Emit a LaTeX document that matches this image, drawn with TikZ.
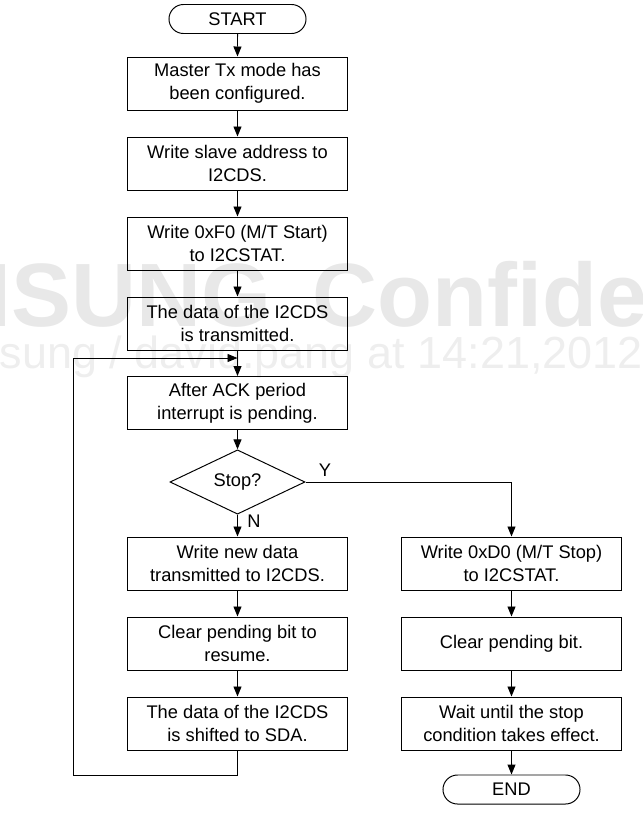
\documentclass[tikz,border=0pt]{standalone}
\usepackage{fontspec}
\setmainfont{Liberation Sans}
\usetikzlibrary{shapes.geometric, shapes.misc, arrows.meta}
\definecolor{wmark}{RGB}{232, 232, 232}
\definecolor{wmarklt}{RGB}{238, 238, 238}

\begin{document}
\begin{tikzpicture}[x=0.025cm, y=-0.025cm,
  font=\fontsize{13}{16.3}\selectfont,
  box/.style={draw, line width=0.7pt, minimum width=5.475cm, minimum height=1.325cm, align=center, inner sep=0pt},
  term/.style={draw, line width=0.7pt, rounded rectangle, minimum width=3.425cm, minimum height=0.725cm, inner sep=0pt},
  decide/.style={draw, line width=0.7pt, diamond, minimum width=3.375cm, minimum height=1.25cm, inner sep=0pt},
  flow/.style={-{Triangle[length=2.5mm, width=2mm]}, line width=0.7pt}]
  \useasboundingbox (0, 0) rectangle (643, 829);
  \clip (0, 0) rectangle (643, 829);

  % watermark
  \node[anchor=base east, inner sep=0, text=wmark, font=\fontsize{64}{72}\selectfont\bfseries] (wm1) at (272, 326) {SAMSUNG};
  \node[anchor=base west, inner sep=0, text=wmark, font=\fontsize{64}{72}\selectfont\bfseries] (wm2) at (312, 326) {Confidential};
  \node[anchor=base west, inner sep=0, text=wmarklt, font=\fontsize{32}{38}\selectfont] (wm3) at (-93, 368) {Samsung / david.pang at 14:21,2012};

  % left column
  \node[term] (start) at (237.5, 19) {START};
  \node[box] (cfg) at (237.5, 83.5) {Master Tx mode has\\been configured.};
  \node[box] (addr) at (237.5, 163.5) {Write slave address to\\I2CDS.};
  \node[box] (mtstart) at (237.5, 243.5) {Write 0xF0 (M/T Start)\\to I2CSTAT.};
  \node[box] (txd) at (237.5, 323.5) {The data of the I2CDS\\is transmitted.};
  \node[box] (ack) at (237.5, 403) {After ACK period\\interrupt is pending.};
  \node[decide] (stop) at (237.5, 482) {Stop?};
  \node[box] (newd) at (237.5, 563.5) {Write new data\\transmitted to I2CDS.};
  \node[box] (clr) at (237.5, 643.5) {Clear pending bit to\\resume.};
  \node[box] (shift) at (237.5, 723.5) {The data of the I2CDS\\is shifted to SDA.};

  % right column
  \node[box] (mtstop) at (511.5, 563.5) {Write 0xD0 (M/T Stop)\\to I2CSTAT.};
  \node[box] (clrs) at (511.5, 643.5) {Clear pending bit.};
  \node[box] (wait) at (511.5, 723.5) {Wait until the stop\\condition takes effect.};
  \node[term] (end) at (511.5, 789.5) {END};

  \coordinate (lp) at (73, 775);
  \coordinate (jn) at (237.5, 358);

  \draw[flow] (start) -- (cfg);
  \draw[flow] (cfg) -- (addr);
  \draw[flow] (addr) -- (mtstart);
  \draw[flow] (mtstart) -- (txd);
  \draw[flow] (txd) -- (ack);
  \draw[flow] (ack) -- (stop);
  \draw[flow] (stop) -- (newd);
  \draw[flow] (newd) -- (clr);
  \draw[flow] (clr) -- (shift);
  \draw[flow] (shift.south) |- (lp) |- (jn);
  \draw[flow] (stop.east) -| (mtstop.north);
  \draw[flow] (mtstop) -- (clrs);
  \draw[flow] (clrs) -- (wait);
  \draw[flow] (wait) -- (end);

  \node (yes) at (325, 470) {Y};
  \node (no) at (254, 521) {N};

\end{tikzpicture}
\end{document}
